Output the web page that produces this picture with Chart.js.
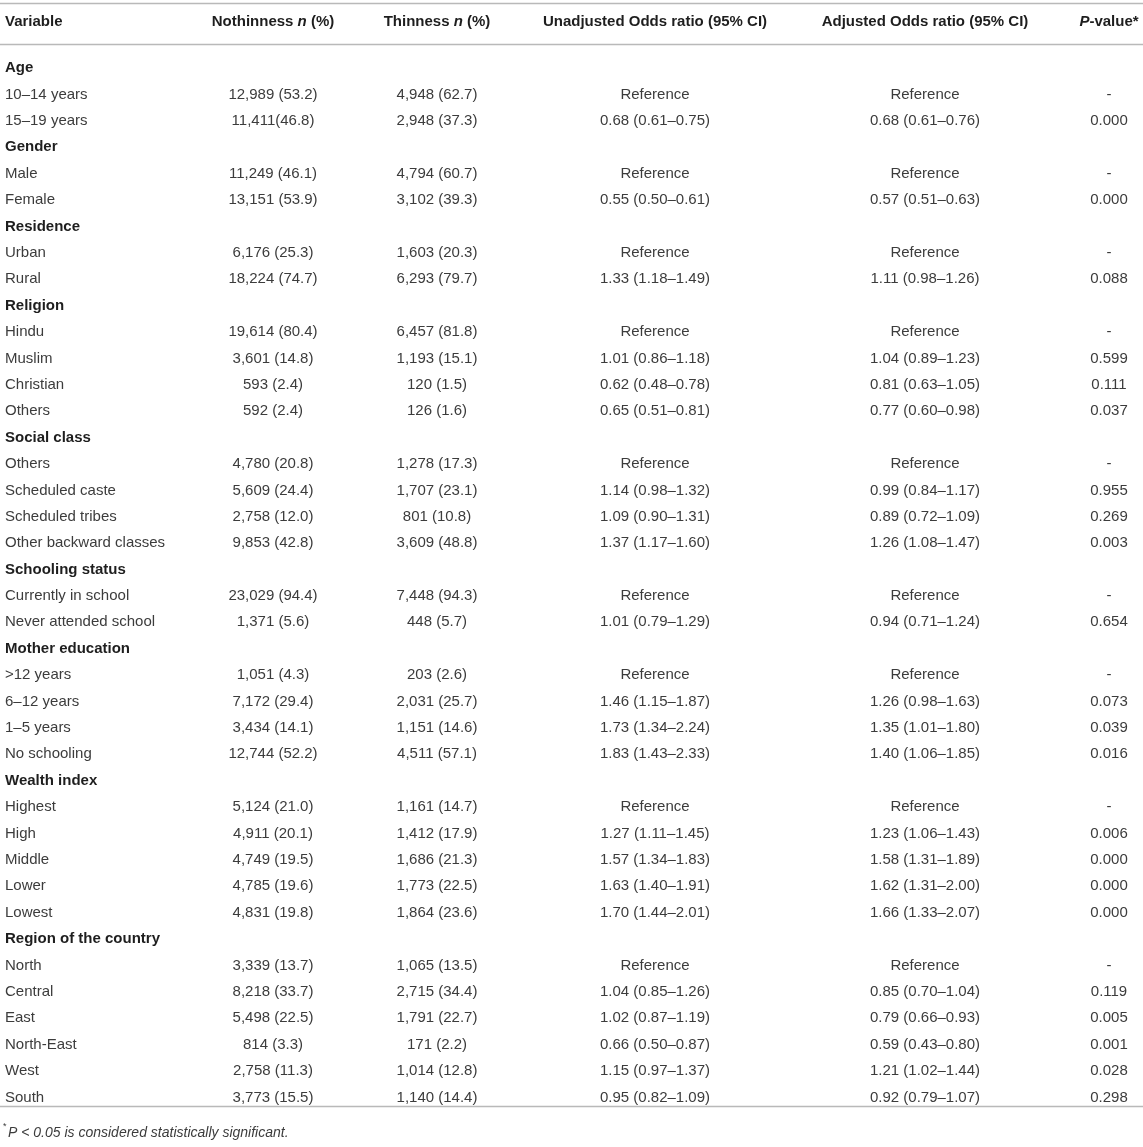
<!DOCTYPE html>
<html>
<head>
<meta charset="utf-8">
<script src="https://cdn.jsdelivr.net/npm/chart.js@4.4.1/dist/chart.umd.min.js"></script>
<style>
  html, body { margin: 0; padding: 0; background: #ffffff; }
  #wrap { width: 1143px; height: 1147px; position: relative; }
</style>
</head>
<body>
<div id="wrap"><canvas id="c"></canvas></div>
<script>
// ---------------- DATA ----------------
const rowLabels = ['Age','10–14 years','15–19 years','Gender','Male','Female','Residence','Urban','Rural',
  'Religion','Hindu','Muslim','Christian','Others','Social class','Others','Scheduled caste','Scheduled tribes',
  'Other backward classes','Schooling status','Currently in school','Never attended school','Mother education',
  '>12 years','6–12 years','1–5 years','No schooling','Wealth index','Highest','High','Middle','Lower','Lowest',
  'Region of the country','North','Central','East','North-East','West','South'];

const groupHeaders = ['Age','Gender','Residence','Religion','Social class','Schooling status',
  'Mother education','Wealth index','Region of the country'];

const nothinness = ['', '12,989 (53.2)', '11,411(46.8)', '', '11,249 (46.1)', '13,151 (53.9)', '', '6,176 (25.3)', '18,224 (74.7)',
  '', '19,614 (80.4)', '3,601 (14.8)', '593 (2.4)', '592 (2.4)', '', '4,780 (20.8)', '5,609 (24.4)', '2,758 (12.0)',
  '9,853 (42.8)', '', '23,029 (94.4)', '1,371 (5.6)', '', '1,051 (4.3)', '7,172 (29.4)', '3,434 (14.1)', '12,744 (52.2)',
  '', '5,124 (21.0)', '4,911 (20.1)', '4,749 (19.5)', '4,785 (19.6)', '4,831 (19.8)', '', '3,339 (13.7)', '8,218 (33.7)',
  '5,498 (22.5)', '814 (3.3)', '2,758 (11.3)', '3,773 (15.5)'];

const thinness = ['', '4,948 (62.7)', '2,948 (37.3)', '', '4,794 (60.7)', '3,102 (39.3)', '', '1,603 (20.3)', '6,293 (79.7)',
  '', '6,457 (81.8)', '1,193 (15.1)', '120 (1.5)', '126 (1.6)', '', '1,278 (17.3)', '1,707 (23.1)', '801 (10.8)',
  '3,609 (48.8)', '', '7,448 (94.3)', '448 (5.7)', '', '203 (2.6)', '2,031 (25.7)', '1,151 (14.6)', '4,511 (57.1)',
  '', '1,161 (14.7)', '1,412 (17.9)', '1,686 (21.3)', '1,773 (22.5)', '1,864 (23.6)', '', '1,065 (13.5)', '2,715 (34.4)',
  '1,791 (22.7)', '171 (2.2)', '1,014 (12.8)', '1,140 (14.4)'];

const unadjustedOR = ['', 'Reference', '0.68 (0.61–0.75)', '', 'Reference', '0.55 (0.50–0.61)', '', 'Reference', '1.33 (1.18–1.49)',
  '', 'Reference', '1.01 (0.86–1.18)', '0.62 (0.48–0.78)', '0.65 (0.51–0.81)', '', 'Reference', '1.14 (0.98–1.32)',
  '1.09 (0.90–1.31)', '1.37 (1.17–1.60)', '', 'Reference', '1.01 (0.79–1.29)', '', 'Reference', '1.46 (1.15–1.87)',
  '1.73 (1.34–2.24)', '1.83 (1.43–2.33)', '', 'Reference', '1.27 (1.11–1.45)', '1.57 (1.34–1.83)', '1.63 (1.40–1.91)',
  '1.70 (1.44–2.01)', '', 'Reference', '1.04 (0.85–1.26)', '1.02 (0.87–1.19)', '0.66 (0.50–0.87)', '1.15 (0.97–1.37)',
  '0.95 (0.82–1.09)'];

const adjustedOR = ['', 'Reference', '0.68 (0.61–0.76)', '', 'Reference', '0.57 (0.51–0.63)', '', 'Reference', '1.11 (0.98–1.26)',
  '', 'Reference', '1.04 (0.89–1.23)', '0.81 (0.63–1.05)', '0.77 (0.60–0.98)', '', 'Reference', '0.99 (0.84–1.17)',
  '0.89 (0.72–1.09)', '1.26 (1.08–1.47)', '', 'Reference', '0.94 (0.71–1.24)', '', 'Reference', '1.26 (0.98–1.63)',
  '1.35 (1.01–1.80)', '1.40 (1.06–1.85)', '', 'Reference', '1.23 (1.06–1.43)', '1.58 (1.31–1.89)', '1.62 (1.31–2.00)',
  '1.66 (1.33–2.07)', '', 'Reference', '0.85 (0.70–1.04)', '0.79 (0.66–0.93)', '0.59 (0.43–0.80)', '1.21 (1.02–1.44)',
  '0.92 (0.79–1.07)'];

const pValues = ['', '-', '0.000', '', '-', '0.000', '', '-', '0.088', '', '-', '0.599', '0.111', '0.037', '', '-', '0.955',
  '0.269', '0.003', '', '-', '0.654', '', '-', '0.073', '0.039', '0.016', '', '-', '0.006', '0.000', '0.000', '0.000',
  '', '-', '0.119', '0.005', '0.001', '0.028', '0.298'];

// column headers as rich-text segments (bold, with italic parts)
const columnHeaders = [
  [{t:'Variable'}],
  [{t:'Nothinness '}, {t:'n', i:true}, {t:' (%)'}],
  [{t:'Thinness '}, {t:'n', i:true}, {t:' (%)'}],
  [{t:'Unadjusted Odds ratio (95% CI)'}],
  [{t:'Adjusted Odds ratio (95% CI)'}],
  [{t:'P', i:true}, {t:'-value*'}]
];
const footnote = 'P < 0.05 is considered statistically significant.';

// ---------------- LAYOUT (not data) ----------------
const FONT = '"Liberation Sans", Arial, Helvetica, sans-serif';
const colAnchor = [5, 273, 437, 655, 925, 1109];   // x-scale values (left for col 0, centre for others)
const colAlign  = ['left', 'center', 'center', 'center', 'center', 'center'];
const Y_HEADER = -1.74, Y_TOP_RULE = -2.37, Y_HEAD_RULE = -0.85, Y_BOTTOM_RULE = 39.38, Y_FOOT = 40.33;
const TEXT_DY = 2; // optical baseline nudge in px

const columns = [rowLabels, nothinness, thinness, unadjustedOR, adjustedOR, pValues];

const datasets = columns.map((col, ci) => ({
  label: 'col' + ci,
  data: col.map((txt, r) => ({ x: colAnchor[ci], y: r, txt: txt })).filter(p => p.txt !== ''),
  pointRadius: 0,
  pointHoverRadius: 0,
  showLine: false
}));

function richWidth(ctx, segs, size) {
  let w = 0;
  segs.forEach(s => {
    ctx.font = (s.i ? 'italic ' : '') + 'bold ' + size + 'px ' + FONT;
    w += ctx.measureText(s.t).width;
  });
  return w;
}
function drawRich(ctx, segs, x, y, align, size) {
  const w = richWidth(ctx, segs, size);
  let cx = align === 'center' ? x - w / 2 : x;
  ctx.textAlign = 'left';
  segs.forEach(s => {
    ctx.font = (s.i ? 'italic ' : '') + 'bold ' + size + 'px ' + FONT;
    ctx.fillText(s.t, cx, y);
    cx += ctx.measureText(s.t).width;
  });
}

const tablePlugin = {
  id: 'tablePlugin',
  afterDatasetsDraw(chart) {
    const ctx = chart.ctx;
    const xs = chart.scales.x, ys = chart.scales.y;
    ctx.save();
    // rules
    ctx.strokeStyle = '#b9b9b9';
    ctx.lineWidth = 1.6;
    [Y_TOP_RULE, Y_HEAD_RULE, Y_BOTTOM_RULE].forEach(v => {
      const py = Math.round(ys.getPixelForValue(v)) + 0.5;
      ctx.beginPath();
      ctx.moveTo(xs.getPixelForValue(xs.min), py);
      ctx.lineTo(xs.getPixelForValue(xs.max), py);
      ctx.stroke();
    });
    // headers
    ctx.fillStyle = '#1e1e1e';
    ctx.textBaseline = 'middle';
    const hy = ys.getPixelForValue(Y_HEADER) + TEXT_DY;
    columnHeaders.forEach((segs, ci) => {
      drawRich(ctx, segs, xs.getPixelForValue(colAnchor[ci]), hy, colAlign[ci], 15);
    });
    // body cells from dataset elements
    chart.data.datasets.forEach((ds, ci) => {
      const meta = chart.getDatasetMeta(ci);
      meta.data.forEach((el, i) => {
        const txt = ds.data[i].txt;
        const isGroup = ci === 0 && groupHeaders.includes(txt) && rowLabels.indexOf(txt) === ds.data[i].y;
        ctx.font = (isGroup ? 'bold ' : '') + '15px ' + FONT;
        ctx.fillStyle = isGroup ? '#1e1e1e' : '#3c3c3c';
        ctx.textAlign = colAlign[ci];
        ctx.fillText(txt, el.x, el.y + TEXT_DY);
      });
    });
    // footnote
    const fy = ys.getPixelForValue(Y_FOOT) + TEXT_DY;
    const fx = xs.getPixelForValue(colAnchor[0]);
    ctx.fillStyle = '#3c3c3c';
    ctx.textAlign = 'left';
    ctx.font = '9px ' + FONT;
    ctx.fillText('*', fx - 2, fy - 6);
    ctx.font = 'italic 14px ' + FONT;
    ctx.fillText(footnote, fx + 3, fy);
    ctx.restore();
  }
};

new Chart(document.getElementById('c'), {
  type: 'scatter',
  data: { datasets: datasets },
  options: {
    responsive: true,
    maintainAspectRatio: false,
    animation: false,
    layout: { padding: 0 },
    plugins: { legend: { display: false }, tooltip: { enabled: false } },
    events: [],
    scales: {
      x: { type: 'linear', display: false, min: 0, max: 1143 },
      y: { type: 'linear', display: false, reverse: true, min: -2.5, max: 40.95 }
    }
  },
  plugins: [tablePlugin]
});
</script>
</body>
</html>
